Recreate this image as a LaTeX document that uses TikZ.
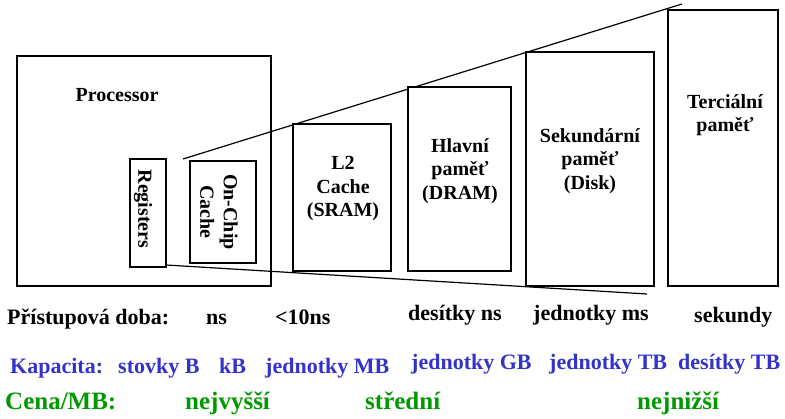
\documentclass[tikz,border=0pt]{standalone}
\usepackage{fontspec}
\setmainfont{Liberation Serif}
\definecolor{capblue}{RGB}{51,51,204}
\definecolor{costgreen}{RGB}{0,153,0}
\begin{document}
\begin{tikzpicture}[x=1pt,y=-1pt,
  membox/.style={draw=black,line width=2.6pt,fill=white,inner sep=0pt},
  boxtext/.style={font=\fontsize{20}{23.5}\selectfont\bfseries,align=center,inner sep=0pt},
  rowtext/.style={font=\fontsize{22}{26}\selectfont\bfseries,inner sep=0pt,anchor=base west},
  captext/.style={rowtext,text=capblue},
  costtext/.style={font=\fontsize{25}{29}\selectfont\bfseries,inner sep=0pt,anchor=base west,text=costgreen},
  edge/.style={draw=black,line width=1.2pt}]
\useasboundingbox (0,0) rectangle (785,419);
% processor box
\node[membox,minimum width=254pt,minimum height=230pt] (proc) at (144,171) {};
\node[boxtext] (proct) at (117,95) {Processor};
% perspective lines
\coordinate (ustart) at (183,159);
\coordinate (uend) at (682,4);
\coordinate (lstart) at (166,265);
\coordinate (lend) at (647,294);
\draw[edge] (ustart) -- (uend);
\draw[edge] (lstart) -- (lend);
% inner boxes
\node[membox,minimum width=36pt,minimum height=108pt] (reg) at (148,213) {};
\node[boxtext,rotate=-90] (regt) at (143,209) {Registers};
\node[membox,minimum width=66pt,minimum height=102pt] (onchip) at (223,212) {};
\node[boxtext,rotate=-90] (onchipt) at (219,212) {On-Chip\\Cache};
\node[membox,minimum width=98pt,minimum height=147pt] (l2) at (342,197.5) {};
\node[boxtext] (l2t) at (343,189) {L2\\Cache\\(SRAM)};
\node[membox,minimum width=103pt,minimum height=184pt] (dram) at (459.5,179) {};
\node[boxtext] (dramt) at (460,171) {Hlavní\\paměť\\(DRAM)};
\node[membox,minimum width=128pt,minimum height=234pt] (disk) at (590,169) {};
\node[boxtext] (diskt) at (590,161) {Sekundární\\paměť\\(Disk)};
\node[membox,minimum width=110pt,minimum height=276pt] (tert) at (723,148) {};
\node[boxtext] (tertt) at (725,115) {Terciální\\paměť};
% access time row
\node[rowtext] (acc) at (7,325) {Přístupová doba:};
\node[rowtext] (acc1) at (206,325) {ns};
\node[rowtext] (acc2) at (275,325) {<10ns};
\node[rowtext] (acc3) at (408,321) {desítky ns};
\node[rowtext] (acc4) at (533,321) {jednotky ms};
\node[rowtext] (acc5) at (694,323) {sekundy};
% capacity row
\node[captext] (cap) at (10,374) {Kapacita:};
\node[captext] (cap1) at (118,374) {stovky B};
\node[captext] (cap2) at (219,374) {kB};
\node[captext] (cap3) at (265,374) {jednotky MB};
\node[captext] (cap4) at (411,370) {jednotky GB};
\node[captext] (cap5) at (549,370) {jednotky TB};
\node[captext] (cap6) at (678,370) {desítky TB};
% cost row
\node[costtext] (cost) at (5,410) {Cena/MB:};
\node[costtext] (cost1) at (185,410) {nejvyšší};
\node[costtext] (cost2) at (365,410) {střední};
\node[costtext] (cost3) at (637,410) {nejnižší};
\end{tikzpicture}
\end{document}
